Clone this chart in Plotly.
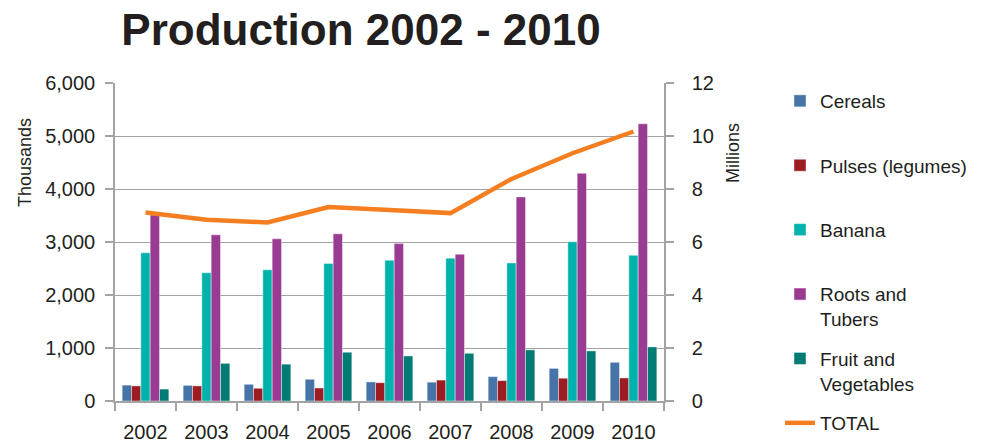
import plotly.graph_objects as go

years = ["2002", "2003", "2004", "2005", "2006", "2007", "2008", "2009", "2010"]
cereals = [300, 295, 315, 410, 360, 355, 460, 615, 730]
pulses = [285, 285, 240, 245, 345, 395, 385, 430, 435]
banana = [2795, 2420, 2475, 2595, 2655, 2695, 2605, 3005, 2750]
roots = [3510, 3135, 3060, 3155, 2970, 2770, 3850, 4295, 5230]
fruit = [225, 710, 695, 920, 850, 900, 965, 945, 1020]
total_millions = [7.11, 6.84, 6.74, 7.32, 7.21, 7.09, 8.38, 9.35, 10.17]

bar_names = ["Cereals", "Pulses (legumes)", "Banana", "Roots and<br>Tubers", "Fruit and<br>Vegetables"]
bar_values = [cereals, pulses, banana, roots, fruit]
bar_colors = ["#4673A8", "#9C1C21", "#00B2AC", "#9A3B93", "#007C74"]
line_color = "#F47E20"
text_color = "#231F20"
axis_color = "#A3A3A3"

W, H = 986, 443
M_T, M_B, M_L, M_R = 30, 30, 115, 322
PLOT_TOP, PLOT_BOT = 83, 401
area_h = H - M_T - M_B
area_w = W - M_L - M_R


def py(pix):
    return (H - M_B - pix) / area_h


def px(pix):
    return (pix - M_L) / area_w


fig = go.Figure()
for i, (name, vals, col) in enumerate(zip(bar_names, bar_values, bar_colors)):
    label = name if "<br>" in name else name + "<br> "
    fig.add_trace(go.Bar(
        x=years, y=vals, name=label, marker_color=col,
        marker_line=dict(width=0.6, color="rgba(255,255,255,0.7)"),
        legendgroup=f"g{i}", yaxis="y",
    ))
fig.add_trace(go.Scatter(
    x=years, y=total_millions, name="TOTAL", mode="lines",
    line=dict(color=line_color, width=4.5), legendgroup="g5", yaxis="y2",
))

font_family = "Liberation Sans, Arial, Helvetica, sans-serif"

fig.update_layout(
    width=W, height=H,
    margin=dict(l=M_L, r=M_R, t=M_T, b=M_B, autoexpand=False),
    paper_bgcolor="white", plot_bgcolor="white",
    font=dict(family=font_family, color=text_color, size=19),
    barmode="group", bargap=0.235, bargroupgap=0,
    title=dict(
        text="<b>Production 2002 - 2010</b>",
        font=dict(size=44, color=text_color, family=font_family),
        xref="container", x=361 / W, xanchor="center",
        yref="container", y=1 - 30 / H, yanchor="middle",
    ),
    xaxis=dict(
        type="category", tickson="boundaries",
        ticks="outside", ticklen=8, tickcolor=axis_color, tickwidth=1.5,
        showline=True, linecolor=axis_color, linewidth=1.5,
        showgrid=False, tickfont=dict(size=20, color=text_color),
        ticklabelstandoff=12, anchor="y",
    ),
    yaxis=dict(
        domain=[py(PLOT_BOT), py(PLOT_TOP)],
        range=[0, 6000], dtick=1000, tickformat=",",
        ticks="outside", ticklen=8, tickcolor=axis_color, tickwidth=1.5,
        showline=True, linecolor=axis_color, linewidth=1.5,
        showgrid=True, gridcolor=axis_color, gridwidth=1.3,
        tickfont=dict(size=20, color=text_color), ticklabelstandoff=6,
        zeroline=False,
    ),
    yaxis2=dict(
        range=[0, 12], dtick=2, overlaying="y", side="right",
        ticks="outside", ticklen=8, tickcolor=axis_color, tickwidth=1.5,
        showline=True, linecolor=axis_color, linewidth=1.5,
        showgrid=False, zeroline=False,
        tickfont=dict(size=20, color=text_color), ticklabelstandoff=14,
    ),
    legend=dict(
        x=px(780), xanchor="left",
        y=py(82), yanchor="top",
        valign="top", tracegroupgap=12,
        font=dict(size=19, color=text_color, family=font_family),
        bgcolor="rgba(0,0,0,0)", borderwidth=0,
    ),
    annotations=[
        dict(text="Thousands", textangle=-90, xref="paper", yref="paper",
             x=px(25), y=py(163), showarrow=False,
             xanchor="center", yanchor="middle",
             font=dict(size=18, color=text_color)),
        dict(text="Millions", textangle=-90, xref="paper", yref="paper",
             x=px(733), y=py(153), showarrow=False,
             xanchor="center", yanchor="middle",
             font=dict(size=18, color=text_color)),
    ],
)

fig.write_html(
    "out.html",
    config={"displayModeBar": False},
    post_script="document.body.style.margin='0';document.body.style.overflow='hidden';",
)
